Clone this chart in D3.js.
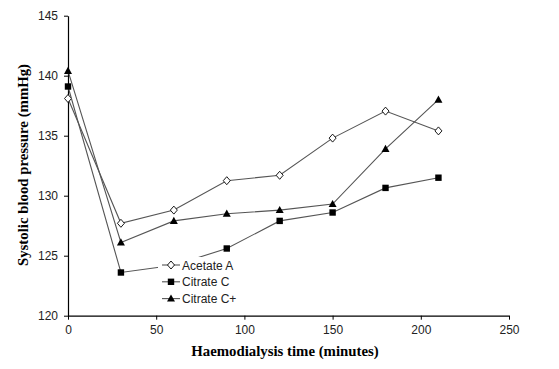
<!DOCTYPE html>
<html>
<head>
<meta charset="utf-8">
<script src="https://cdn.jsdelivr.net/npm/d3@7"></script>
<style>
body { margin: 0; background: #fff; }
</style>
</head>
<body>
<div id="chart"></div>
<script>
// time points (minutes)
var times = [0, 30, 60, 90, 120, 150, 180, 210];
var seriesNames = ["Acetate A", "Citrate C", "Citrate C+"];
var acetateA = [138.1, 127.7, 128.8, 131.25, 131.7, 134.8, 137.05, 135.4];
var citrateC = [139.1, 123.6, 124.2, 125.6, 127.9, 128.6, 130.65, 131.5];
var citrateCPlus = [140.4, 126.1, 127.9, 128.5, 128.8, 129.3, 133.9, 138.0];
var xTicks = [0, 50, 100, 150, 200, 250];
var yTicks = [120, 125, 130, 135, 140, 145];

var width = 559, height = 369;
var svg = d3.select("#chart").append("svg")
	.attr("width", width)
	.attr("height", height);

var x = d3.scaleLinear().domain([0, 250]).range([68, 509]);
var y = d3.scaleLinear().domain([120, 145]).range([315.7, 15.7]);

// axes
var xAxis = svg.append("g")
	.attr("transform", "translate(0," + y(120) + ")")
	.call(d3.axisBottom(x).tickValues(xTicks).tickSize(4).tickSizeOuter(0).tickPadding(6));
var yAxis = svg.append("g")
	.attr("transform", "translate(" + x(0) + ",0)")
	.call(d3.axisLeft(y).tickValues(yTicks).tickSize(4).tickSizeOuter(0).tickPadding(6));

[xAxis, yAxis].forEach(function(ax) {
	ax.select(".domain").attr("stroke", "#000").attr("stroke-width", 1.2);
	ax.selectAll(".tick line").attr("stroke", "#000");
	ax.selectAll(".tick text")
		.style("font-family", "'Liberation Sans', Arial, sans-serif")
		.style("font-size", "12px")
		.attr("fill", "#222");
});

var series = [
	{ name: seriesNames[0], values: acetateA, marker: "diamond" },
	{ name: seriesNames[1], values: citrateC, marker: "square" },
	{ name: seriesNames[2], values: citrateCPlus, marker: "triangle" }
];

var line = d3.line()
	.x(function(d) { return x(d[0]); })
	.y(function(d) { return y(d[1]); });

function drawMarker(g, type, cx, cy) {
	if (type == "diamond") {
		g.append("path")
			.attr("d", "M" + cx + "," + (cy - 4) + "L" + (cx + 3.5) + "," + cy + "L" + cx + "," + (cy + 4) + "L" + (cx - 3.5) + "," + cy + "Z")
			.attr("fill", "#fff").attr("stroke", "#000").attr("stroke-width", 0.9);
	} else if (type == "square") {
		g.append("rect")
			.attr("x", cx - 3.2).attr("y", cy - 3.2)
			.attr("width", 6.4).attr("height", 6.4)
			.attr("fill", "#000");
	} else {
		g.append("path")
			.attr("d", "M" + cx + "," + (cy - 4.2) + "L" + (cx + 4) + "," + (cy + 3) + "L" + (cx - 4) + "," + (cy + 3) + "Z")
			.attr("fill", "#000");
	}
}

series.forEach(function(s) {
	var pts = times.map(function(t, i) { return [t, s.values[i]]; });
	svg.append("path")
		.datum(pts)
		.attr("d", line)
		.attr("fill", "none")
		.attr("stroke", "#555")
		.attr("stroke-width", 1.1);
	var g = svg.append("g");
	pts.forEach(function(p) {
		drawMarker(g, s.marker, x(p[0]), y(p[1]));
	});
});

// legend (white box covers lines behind it)
var legend = svg.append("g");
legend.append("rect")
	.attr("x", 158).attr("y", 257)
	.attr("width", 88).attr("height", 50)
	.attr("fill", "#fff");
series.forEach(function(s, i) {
	var ly = 265 + i * 16.8;
	legend.append("line")
		.attr("x1", 162).attr("x2", 180)
		.attr("y1", ly).attr("y2", ly)
		.attr("stroke", "#555").attr("stroke-width", 1.1);
	drawMarker(legend, s.marker, 171, ly);
	legend.append("text")
		.attr("x", 182).attr("y", ly + 4.5)
		.style("font-family", "'Liberation Sans', Arial, sans-serif")
		.style("font-size", "12px")
		.attr("fill", "#222")
		.text(s.name);
});

// axis titles
svg.append("text")
	.attr("x", 285).attr("y", 356)
	.attr("text-anchor", "middle")
	.style("font-family", "'Liberation Serif', 'Times New Roman', serif")
	.style("font-weight", "bold")
	.style("font-size", "14.8px")
	.text("Haemodialysis time (minutes)");
svg.append("text")
	.attr("transform", "translate(28," + 165 + ") rotate(-90)")
	.attr("text-anchor", "middle")
	.style("font-family", "'Liberation Serif', 'Times New Roman', serif")
	.style("font-weight", "bold")
	.style("font-size", "14.8px")
	.text("Systolic blood pressure (mmHg)");
</script>
</body>
</html>
